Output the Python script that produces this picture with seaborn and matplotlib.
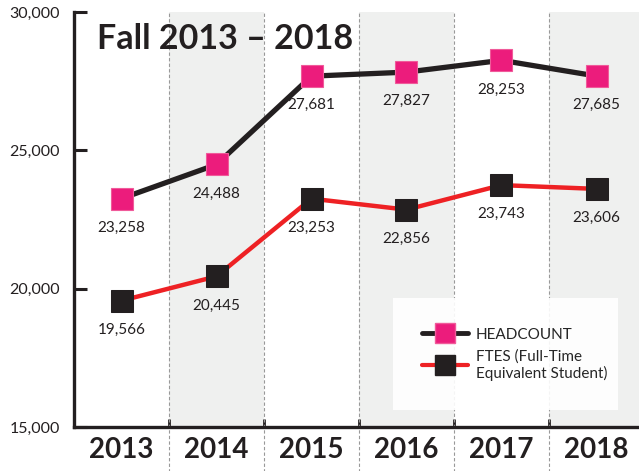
import matplotlib
matplotlib.use("Agg")
import matplotlib.pyplot as plt
import seaborn as sns
import pandas as pd
from matplotlib.lines import Line2D

years = ["2013", "2014", "2015", "2016", "2017", "2018"]
headcount = [23258, 24488, 27681, 27827, 28253, 27685]
ftes = [19566, 20445, 23253, 22856, 23743, 23606]
y_ticks = [15000, 20000, 25000, 30000]
title = "Fall 2013 – 2018"

sns.set_theme(style="white")
plt.rcParams['font.family'] = ['Lato', 'DejaVu Sans']

PINK = "#EC1C7C"
RED = "#EE2124"
DARK = "#231F20"

fig = plt.figure(figsize=(6.39, 4.71), dpi=100)
ax = fig.add_axes([74/639, 44/471, 565/639, 415/471])

x = list(range(len(years)))
df = pd.DataFrame({"x": x, "headcount": headcount, "ftes": ftes})

# shaded columns
for i in range(len(years)):
    if i % 2 == 1:
        ax.axvspan(i - 0.5, i + 0.5, color="#EFF0EF", lw=0, zorder=0)
# dashed separators
for i in range(1, len(years) + 1):
    ax.axvline(i - 0.5, ymin=-0.11, ymax=1.0, color="#999999", lw=0.8,
               ls=(0, (3, 2)), clip_on=False, zorder=1)

sns.lineplot(data=df, x="x", y="headcount", ax=ax, color=DARK, linewidth=3.8,
             marker="s", markersize=16, markerfacecolor=PINK,
             markeredgecolor="#F05A9A", markeredgewidth=0.8, zorder=4)
sns.lineplot(data=df, x="x", y="ftes", ax=ax, color=RED, linewidth=3.2,
             marker="s", markersize=16, markerfacecolor=DARK,
             markeredgecolor=DARK, zorder=4)

for xi, v in zip(x, headcount):
    ax.annotate(f"{v:,}", (xi, v), xytext=(0, -21), textcoords="offset points",
                ha="center", va="center", fontsize=11, color=DARK)
for xi, v in zip(x, ftes):
    ax.annotate(f"{v:,}", (xi, v), xytext=(0, -21), textcoords="offset points",
                ha="center", va="center", fontsize=11, color=DARK)

ax.set_xlim(-0.5, -0.5 + 565/95)
ax.set_ylim(15000, 30000)
ax.set_yticks(y_ticks)
ax.set_yticklabels([f"{t:,}" for t in y_ticks], fontsize=11.5, color=DARK)
ax.tick_params(axis="y", direction="in", length=9, width=2.2, color=DARK, pad=10, left=True)

ax.set_xticks([i + 0.5 for i in range(len(years) - 1)] + [-0.5])
ax.set_xticklabels([""] * len(years))
ax.tick_params(axis="x", which="major", direction="in", length=6, width=2, color=DARK, bottom=True)
ax.set_xticks(x, years, minor=True)
ax.tick_params(axis="x", which="minor", length=0, pad=7, labelsize=20, labelcolor=DARK)
for lbl in ax.get_xticklabels(minor=True):
    lbl.set_fontweight("bold")

ax.set_xlabel("")
ax.set_ylabel("")
for s in ["top", "right"]:
    ax.spines[s].set_visible(False)
for s in ["left", "bottom"]:
    ax.spines[s].set_color(DARK)
    ax.spines[s].set_linewidth(2.4)

ax.text(0.04, 0.935, title, transform=ax.transAxes, fontsize=24.5, fontweight="bold",
        color=DARK, ha="left", va="center", zorder=5)

handles = [
    Line2D([0], [0], color=DARK, lw=3.5, marker="s", markersize=15,
           markerfacecolor=PINK, markeredgecolor="#F05A9A"),
    Line2D([0], [0], color=RED, lw=3.0, marker="s", markersize=15,
           markerfacecolor=DARK, markeredgecolor=DARK),
]
leg = ax.legend(handles, ["HEADCOUNT", "FTES (Full-Time\nEquivalent Student)"],
                loc="lower left", bbox_to_anchor=(319/565, 17/415, 225/565, 117/415),
                mode="expand", frameon=True, fancybox=False, fontsize=11,
                handlelength=3.0, borderpad=1.9, borderaxespad=0, labelspacing=0.5,
                handletextpad=0.5)
leg.get_frame().set_facecolor("white")
leg.get_frame().set_alpha(0.9)
leg.get_frame().set_edgecolor("none")
leg.set_zorder(6)

fig.savefig("out.png", dpi=100)
